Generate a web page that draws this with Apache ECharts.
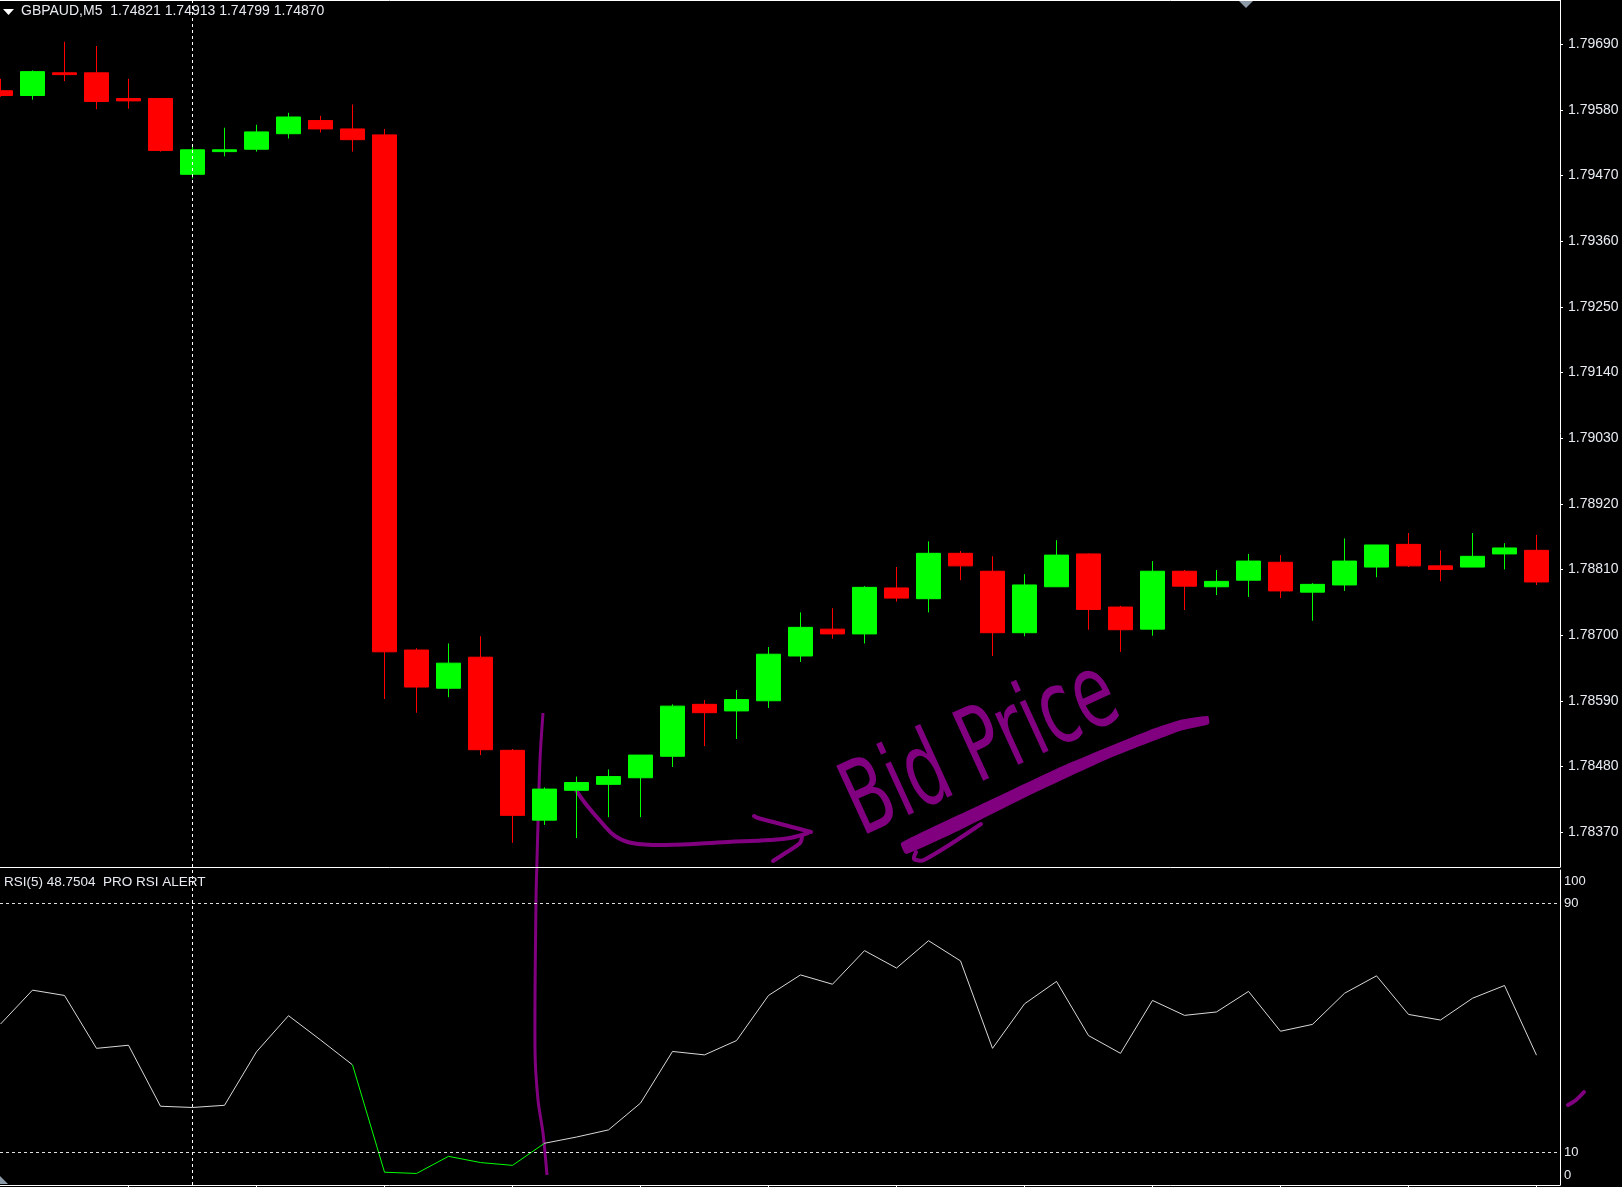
<!DOCTYPE html>
<html><head><meta charset="utf-8">
<script src="https://cdn.jsdelivr.net/npm/echarts@6/dist/echarts.min.js"></script>
<style>html,body{margin:0;padding:0;background:#000;overflow:hidden}#c{width:1622px;height:1187px}</style>
</head><body><div id="c"></div>
<script>
const symbolTitle = 'GBPAUD,M5  1.74821 1.74913 1.74799 1.74870';
const rsiTitle = 'RSI(5) 48.7504  PRO RSI ALERT';
// [open, close, low, high] per 5-minute bar
const ohlc = [
[1.79612,1.79604,1.79602,1.79632],
[1.79604,1.79644,1.79597,1.79646],
[1.79642,1.79639,1.79628,1.79694],
[1.79642,1.79594,1.79581,1.79687],
[1.79599,1.79595,1.79582,1.79632],
[1.79599,1.79512,1.79510,1.79599],
[1.79472,1.79513,1.79465,1.79522],
[1.79510,1.79513,1.79502,1.79550],
[1.79514,1.79543,1.79510,1.79555],
[1.79540,1.79568,1.79532,1.79575],
[1.79562,1.79548,1.79542,1.79570],
[1.79548,1.79530,1.79510,1.79589],
[1.79538,1.78672,1.78593,1.79548],
[1.78675,1.78613,1.78570,1.78678],
[1.78611,1.78653,1.78596,1.78686],
[1.78663,1.78508,1.78499,1.78698],
[1.78507,1.78398,1.78352,1.78509],
[1.78390,1.78442,1.78382,1.78445],
[1.78440,1.78453,1.78360,1.78463],
[1.78450,1.78463,1.78395,1.78475],
[1.78461,1.78499,1.78395,1.78499],
[1.78497,1.78581,1.78479,1.78584],
[1.78584,1.78570,1.78514,1.78591],
[1.78573,1.78592,1.78526,1.78608],
[1.78590,1.78668,1.78578,1.78680],
[1.78665,1.78713,1.78655,1.78738],
[1.78710,1.78702,1.78694,1.78745],
[1.78702,1.78780,1.78686,1.78782],
[1.78779,1.78762,1.78756,1.78814],
[1.78761,1.78837,1.78738,1.78857],
[1.78837,1.78816,1.78792,1.78841],
[1.78807,1.78704,1.78665,1.78832],
[1.78704,1.78784,1.78698,1.78802],
[1.78781,1.78834,1.78781,1.78859],
[1.78836,1.78743,1.78709,1.78837],
[1.78747,1.78709,1.78672,1.78749],
[1.78710,1.78807,1.78699,1.78824],
[1.78807,1.78782,1.78742,1.78809],
[1.78781,1.78790,1.78767,1.78809],
[1.78792,1.78824,1.78764,1.78836],
[1.78822,1.78774,1.78762,1.78834],
[1.78772,1.78785,1.78724,1.78787],
[1.78784,1.78824,1.78774,1.78862],
[1.78814,1.78851,1.78797,1.78851],
[1.78852,1.78816,1.78814,1.78871],
[1.78816,1.78810,1.78790,1.78842],
[1.78814,1.78832,1.78814,1.78871],
[1.78836,1.78846,1.78810,1.78854],
[1.78842,1.78789,1.78784,1.78868]
];
const rsi = [51.2,62.1,60.4,43.4,44.4,24.8,24.4,25.1,42.3,53.9,46.1,38.1,
3.6,3.2,8.7,6.7,5.8,12.9,14.9,17.2,25.8,42.4,41.3,45.9,60.4,
67.0,64.0,74.8,69.2,78.0,71.5,43.4,57.7,64.9,47.5,41.8,58.8,
54.0,55.1,61.7,48.9,51.1,61.1,66.7,54.3,52.5,59.5,63.6,41.2];
const priceTicks = [1.78370,1.78480,1.78590,1.78700,1.78810,1.78920,1.79030,1.79140,1.79250,1.79360,1.79470,1.79580,1.79690];
const rsiTicks = [0,10,90,100];
const rsiLevels = [90,10];
const timeTicks = [4,8,12,16,20,24,28,32,36,40,44,48];
const crosshairBar = 6;
const alertBars = [11,17];

const UP = '#00ff00', DOWN = '#ff0000', FG = '#e8ecf2', PURPLE = '#800080';
const FONT = 'Liberation Sans';
const xMin = -0.015625, xMax = 48.734375;

const chart = echarts.init(document.getElementById('c'), null, {renderer:'canvas'});
const whiteLine = {show:true, onZero:false, lineStyle:{color:'#ffffff', width:1}};
chart.setOption({
  animation:false,
  backgroundColor:'#000000',
  title:[
    {text:symbolTitle, left:21, top:4, padding:0, textStyle:{color:FG, fontSize:14, fontWeight:'normal', fontFamily:FONT}},
    {text:rsiTitle, left:4, top:875, padding:0, textStyle:{color:FG, fontSize:13.5, fontWeight:'normal', fontFamily:FONT}}
  ],
  grid:[
    {left:0, top:0, width:1560, height:867},
    {left:0, top:870, width:1560, height:315}
  ],
  xAxis:[
    {gridIndex:0, type:'value', min:xMin, max:xMax, axisLine:whiteLine, axisTick:{show:false}, axisLabel:{show:false}, splitLine:{show:false}},
    {gridIndex:0, type:'value', position:'top', min:xMin, max:xMax, axisLine:whiteLine, axisTick:{show:false}, axisLabel:{show:false}, splitLine:{show:false}},
    {gridIndex:1, type:'value', min:xMin, max:xMax, axisLine:whiteLine,
     axisTick:{show:true, customValues:timeTicks, length:3, lineStyle:{color:'#ffffff'}},
     axisLabel:{show:false}, splitLine:{show:false}}
  ],
  yAxis:[
    {gridIndex:0, type:'value', position:'right', min:1.783115, max:1.797640,
     axisLine:whiteLine,
     axisTick:{show:true, customValues:priceTicks, length:3, lineStyle:{color:'#ffffff'}},
     axisLabel:{customValues:priceTicks, formatter:v=>v.toFixed(5), color:FG, fontSize:14, fontFamily:FONT, margin:8},
     splitLine:{show:false}},
    {gridIndex:1, type:'value', position:'right', min:-0.51, max:100.71,
     axisLine:whiteLine, axisTick:{show:false},
     axisLabel:{customValues:rsiTicks, color:FG, fontSize:13, fontFamily:FONT, margin:4,
       formatter:v=> v===100 ? '{t|100}' : (v===0 ? '{b|0}' : '{n|'+v+'}'),
       rich:{t:{padding:[18,0,0,0], color:FG, fontSize:13, fontFamily:FONT},
             b:{padding:[0,0,16,0], color:FG, fontSize:13, fontFamily:FONT},
             n:{color:FG, fontSize:13, fontFamily:FONT}}},
     splitLine:{show:false}}
  ],
  visualMap:{type:'piecewise', show:false, seriesIndex:1, dimension:0,
    pieces:[{gte:alertBars[0], lte:alertBars[1], color:UP}], outOfRange:{color:'#d8d8d8'}},
  series:[
    {type:'candlestick', xAxisIndex:0, yAxisIndex:0, barWidth:24,
     data:ohlc.map((d,i)=>[i,d[0],d[1],d[2],d[3]]),
     itemStyle:{color:UP, color0:DOWN, borderColor:UP, borderColor0:DOWN, borderWidth:1},
     markLine:{silent:true, symbol:['none','none'], label:{show:false},
       lineStyle:{color:'#ffffff', type:[3,3], width:1}, data:[{xAxis:crosshairBar}]}},
    {type:'line', xAxisIndex:2, yAxisIndex:1, showSymbol:false,
     data:rsi.map((v,i)=>[i,v]), lineStyle:{width:1},
     markLine:{silent:true, symbol:['none','none'], label:{show:false},
       lineStyle:{color:'#e0e0e0', type:[3,3], width:1},
       data:rsiLevels.map(v=>({yAxis:v})).concat([{xAxis:crosshairBar, lineStyle:{color:'#ffffff', type:[3,3]}}])}}
  ],
  graphic:[
    {type:'polygon', shape:{points:[[3,9],[14,9],[8.5,15]]}, style:{fill:'#ffffff'}},
    {type:'polygon', shape:{points:[[1238,0],[1254,0],[1246,8]]}, style:{fill:'#8c9aa8'}},
    {type:'polygon', shape:{points:[[0,1176],[8,1184],[0,1184]]}, style:{fill:'#8c9aa8'}},
    {type:'polyline', shape:{points:[[543,713],[540,760],[537,860],[536,900],[535,1050],[538,1100],[543,1133],[547,1175]], smooth:0.3},
     style:{stroke:PURPLE, lineWidth:3, fill:null}},
    {type:'polyline', shape:{points:[[576,790],[585,803],[602,823],[615,836],[632,843],[665,845],[728,842],[770,840],[790,838],[808,833]], smooth:0.4},
     style:{stroke:PURPLE, lineWidth:4, fill:null, lineCap:'round'}},
    {type:'polyline', shape:{points:[[754,816],[758,818],[796,828],[811,832]], smooth:0.3},
     style:{stroke:PURPLE, lineWidth:4, fill:null, lineCap:'round'}},
    {type:'polyline', shape:{points:[[802,837],[800,843],[787,852],[773,861]], smooth:0.3},
     style:{stroke:PURPLE, lineWidth:4, fill:null, lineCap:'round'}},
    {type:'polygon', shape:{points:[[901,843],[980,805],[1065,765],[1150,730],[1180,720],[1208,716],[1209,724],[1180,731],[1110,758],[1030,795],[960,830],[906,854]], smooth:0.15},
     style:{fill:PURPLE}},
    {type:'polyline', shape:{points:[[916,852],[914,859],[924,860],[981,824]], smooth:0.3},
     style:{stroke:PURPLE, lineWidth:4, fill:null, lineCap:'round'}},
    {type:'polyline', shape:{points:[[1568,1105],[1576,1100],[1584,1092]], smooth:0.3},
     style:{stroke:PURPLE, lineWidth:4, fill:null, lineCap:'round'}},
    {type:'text', x:982, y:752, rotation:0.43, scaleX:0.7, scaleY:1.08,
     style:{text:'Bid Price', fill:PURPLE, fontSize:95, fontFamily:'DejaVu Sans', align:'center', verticalAlign:'middle'}}
  ]
});
</script></body></html>
